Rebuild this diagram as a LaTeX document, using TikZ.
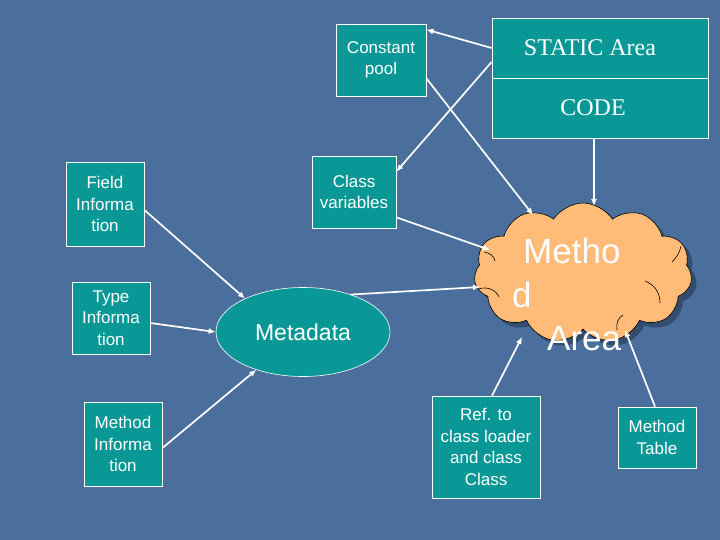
\documentclass[tikz,border=0pt]{standalone}
\usepackage{fontspec}
\setmainfont{Liberation Sans}
\newfontfamily\serifF{Liberation Serif}
\usetikzlibrary{arrows.meta,shapes.symbols,shapes.geometric,shadows}
\definecolor{bgblue}{RGB}{74,111,156}
\definecolor{tealbox}{RGB}{10,152,150}
\definecolor{cloudor}{RGB}{255,187,119}
\begin{document}
\begin{tikzpicture}[x=1pt,y=-1pt,
  box/.style={draw=white,line width=0.8pt,fill=tealbox,text=white,inner sep=0pt,align=center,font=\fontsize{17}{21.5}\selectfont},
  arr/.style={draw=white,line width=1.7pt,-{Latex[length=7pt,width=6pt]}},
  curl/.style={draw=black,line width=0.6pt},
  cloudtext/.style={anchor=base west,text=white,inner sep=0pt,font=\fontsize{35}{35}\selectfont}]
\fill[bgblue] (0,0) rectangle (720,540);
\useasboundingbox (0,0) rectangle (720,540);

% boxes
\node[box,minimum width=90pt,minimum height=72pt] (cpool) at (381,60) {Constant\\pool};
\node[box,minimum width=216pt,minimum height=60pt,font=\serifF\fontsize{24}{24}\selectfont] (static) at (600,48) {STATIC Area\hspace*{20pt}};
\node[box,minimum width=216pt,minimum height=60pt,font=\serifF\fontsize{24}{24}\selectfont] (code) at (600,108) {CODE\hspace*{14pt}};
\node[box,minimum width=78pt,minimum height=84pt] (field) at (105,204) {Field\\Informa\\tion};
\node[box,minimum width=84pt,minimum height=72pt] (cv) at (354,192) {Class\\variables};
\node[box,minimum width=78pt,minimum height=72pt] (type) at (111,318) {Type\\Informa\\tion};
\node[box,minimum width=78pt,minimum height=84pt] (minfo) at (123,444) {Method\\Informa\\tion};
\node[box,minimum width=108pt,minimum height=102pt] (ref) at (486,447) {Ref. to\\class loader\\and class\\Class};
\node[box,minimum width=78pt,minimum height=61pt] (mt) at (657,437.5) {Method\\Table};

% metadata
\node[ellipse,draw=white,line width=0.6pt,fill=tealbox,minimum width=174pt,minimum height=89pt,inner sep=0pt,text=white,font=\fontsize{23}{23}\selectfont] (meta) at (303,332) {Metadata};

% cloud
\node[cloud,cloud puffs=11,cloud puff arc=115,draw=black,line width=0.6pt,fill=cloudor,minimum width=218pt,minimum height=140pt,
  drop shadow={shadow xshift=5pt,shadow yshift=-5pt,fill=black,opacity=0.3}] (cloud) at (583,273) {};
\draw[curl] (478,289) .. controls (488,286) and (496,290) .. (499,297);
\draw[curl] (484,252) .. controls (490,253) and (494,256) .. (495,261);
\draw[curl] (645,281) .. controls (655,285) and (660,293) .. (660,303);
\draw[curl] (617,330) .. controls (616,323) and (618,318) .. (623,315);
\draw[curl] (672,262) .. controls (677,257) and (680,252) .. (681,246);
\node[cloudtext] (m1) at (523,263) {Metho};
\node[cloudtext] (m2) at (512,307) {d};
\node[cloudtext] (m3) at (547,350) {Area};

% arrow tips on the cloud
\coordinate (cA) at (533,215);
\coordinate (cB) at (594,206);
\coordinate (cC) at (490,250);
\coordinate (cD) at (480,287);
\coordinate (cE) at (522,337);
\coordinate (cF) at (625,330);

% connectors
\draw[arr] (static.west) -- ([yshift=-6pt]cpool.north east);
\draw[arr] ([yshift=-14pt]static.west) -- ([yshift=-16pt]cv.north east);
\draw[arr] ([yshift=18pt]cpool.south east) -- (cA);
\draw[arr] ([xshift=-6pt]code.south) -- (cB);
\draw[arr] ([yshift=11pt]cv.south east) -- (cC);
\draw[arr] (meta.38) -- (cD);
\draw[arr] ([yshift=-6pt]field.east) -- (meta.150);
\draw[arr] ([yshift=-5pt]type.east) -- (meta.west);
\draw[arr] ([yshift=-4pt]minfo.east) -- (meta.219);
\draw[arr] ([xshift=6pt]ref.north) -- (cE);
\draw[arr] ([xshift=-2pt]mt.north) -- (cF);
\end{tikzpicture}
\end{document}
